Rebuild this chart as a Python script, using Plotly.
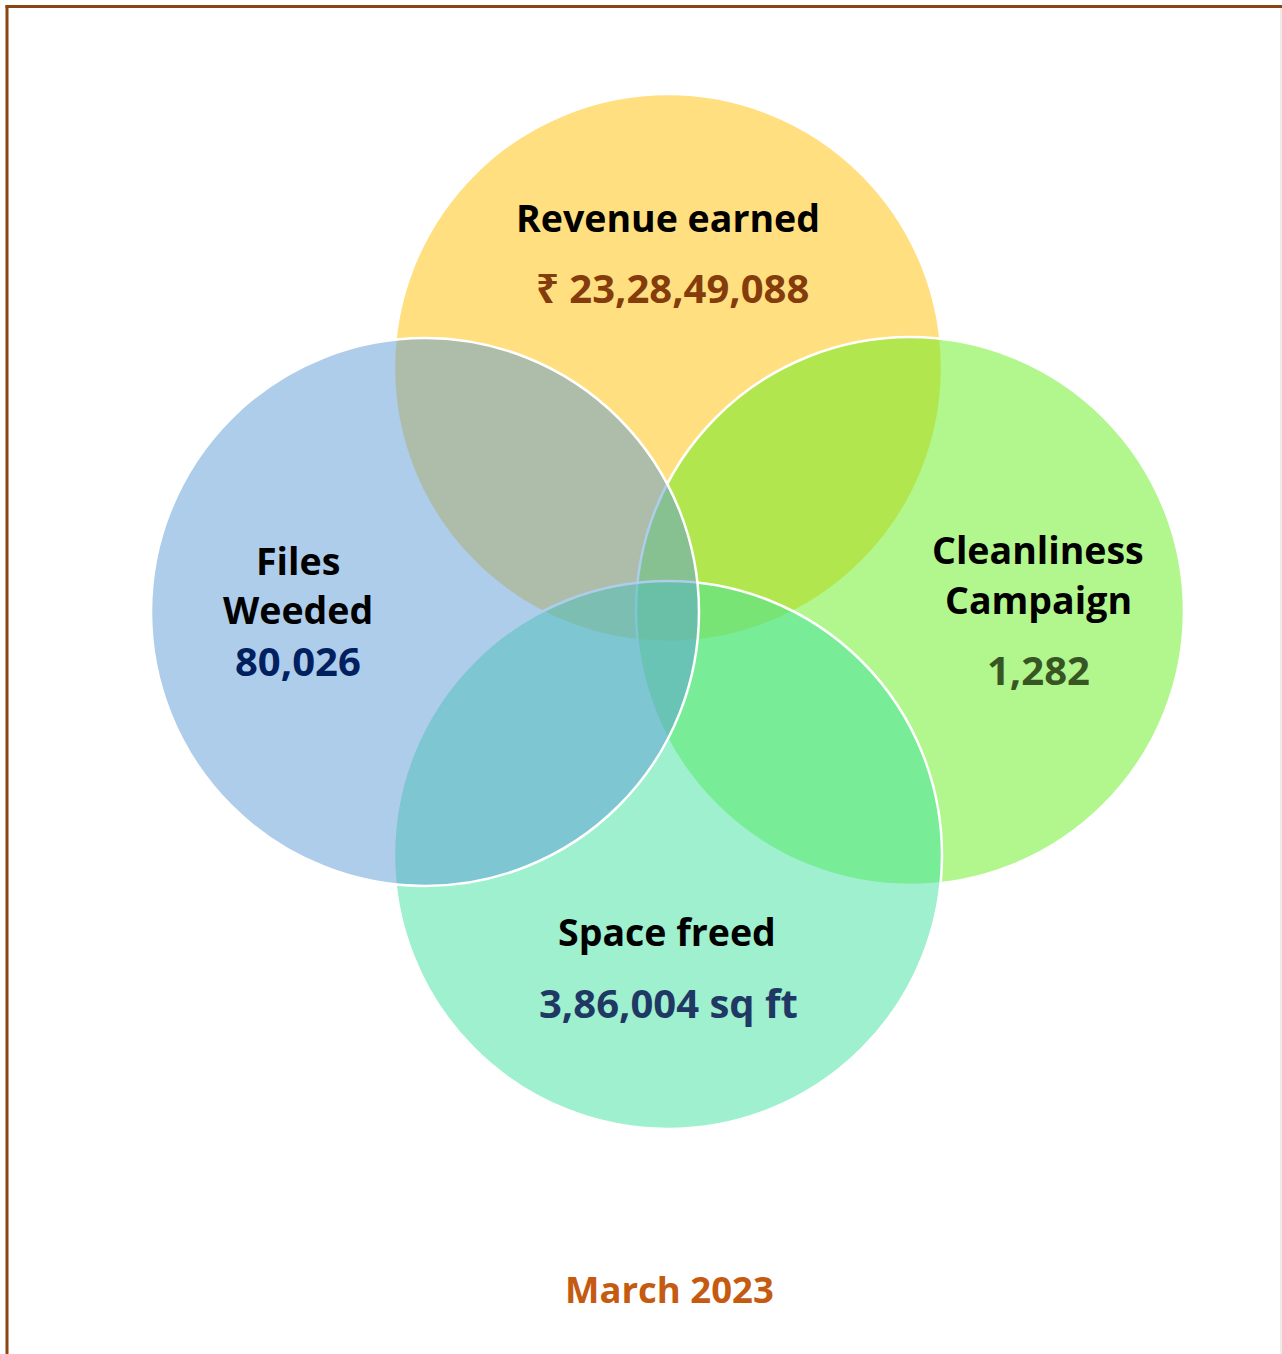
import plotly.graph_objects as go

# ---- data ----
categories = ["Revenue earned", "Files<br>Weeded", "Cleanliness<br>Campaign", "Space freed"]
values = ["₹ 23,28,49,088", "80,026", "1,282", "3,86,004 sq ft"]
period = "March 2023"

# ---- styling / layout (not data) ----
W, H = 1282, 1354
FONT = "Open Sans, Noto Sans, DejaVu Sans, sans-serif"
R = 274
# drawing order: yellow (top), green (right), mint (bottom), blue (left)
circles = [
    dict(idx=0, cx=668, cy=368, fill="rgba(255,192,0,0.5)"),
    dict(idx=2, cx=910, cy=611, fill="rgba(101,238,30,0.5)"),
    dict(idx=3, cx=668, cy=855, fill="rgba(61,225,157,0.5)"),
    dict(idx=1, cx=425, cy=612, fill="rgba(91,155,213,0.5)"),
]
# text placement per category: (x, title line y's, value y, value colour, value x)
text_pos = {
    0: (668, [217], 287, "#843C0C", 672),
    1: (298, [560, 609], 660, "#002060", 298),
    2: (1038, [549, 599], 669, "#375623", 1038),
    3: (667, [931], 1002, "#1F3864", 668),
}

fig = go.Figure()
fig.add_trace(go.Scatter(x=[0, W], y=[0, H], mode="markers",
                         marker=dict(opacity=0), hoverinfo="skip", showlegend=False))

shapes = []
for c in circles:
    shapes.append(dict(type="circle", xref="x", yref="y",
                       x0=c["cx"] - R, x1=c["cx"] + R, y0=c["cy"] - R, y1=c["cy"] + R,
                       fillcolor=c["fill"], line=dict(color="white", width=2.5), layer="above"))

# frame
shapes.append(dict(type="line", xref="x", yref="y", x0=7, x1=7, y0=5, y1=H,
                   line=dict(color="#8B4513", width=3)))
shapes.append(dict(type="line", xref="x", yref="y", x0=5.5, x1=W, y0=6.5, y1=6.5,
                   line=dict(color="#8B4513", width=3)))
shapes.append(dict(type="line", xref="x", yref="y", x0=W - 1, x1=W - 1, y0=8, y1=H,
                   line=dict(color="#DDD5D0", width=1)))

annotations = []
for i, cat in enumerate(categories):
    x, ys, vy, vcol, vx = text_pos[i]
    for line, y in zip(cat.split("<br>"), ys):
        annotations.append(dict(x=x, y=y, xref="x", yref="y", text=f"<b>{line}</b>",
                                showarrow=False, xanchor="center", yanchor="middle",
                                font=dict(family=FONT, size=37.5, color="black")))
    annotations.append(dict(x=vx, y=vy, xref="x", yref="y", text=f"<b>{values[i]}</b>",
                            showarrow=False, xanchor="center", yanchor="middle",
                            font=dict(family=FONT, size=40, color=vcol)))

annotations.append(dict(x=669, y=1289, xref="x", yref="y", text=f"<b>{period}</b>",
                        showarrow=False, xanchor="center", yanchor="middle",
                        font=dict(family=FONT, size=36.5, color="#C55A11")))

fig.update_layout(
    width=W, height=H,
    margin=dict(l=0, r=0, t=0, b=0),
    paper_bgcolor="white", plot_bgcolor="white",
    xaxis=dict(range=[0, W], visible=False, fixedrange=True),
    yaxis=dict(range=[H, 0], visible=False, fixedrange=True),
    shapes=shapes, annotations=annotations,
    showlegend=False,
)

fig.write_html("out.html", config={"displayModeBar": False},
               post_script="document.body.style.margin='0';document.body.style.overflow='hidden';")
